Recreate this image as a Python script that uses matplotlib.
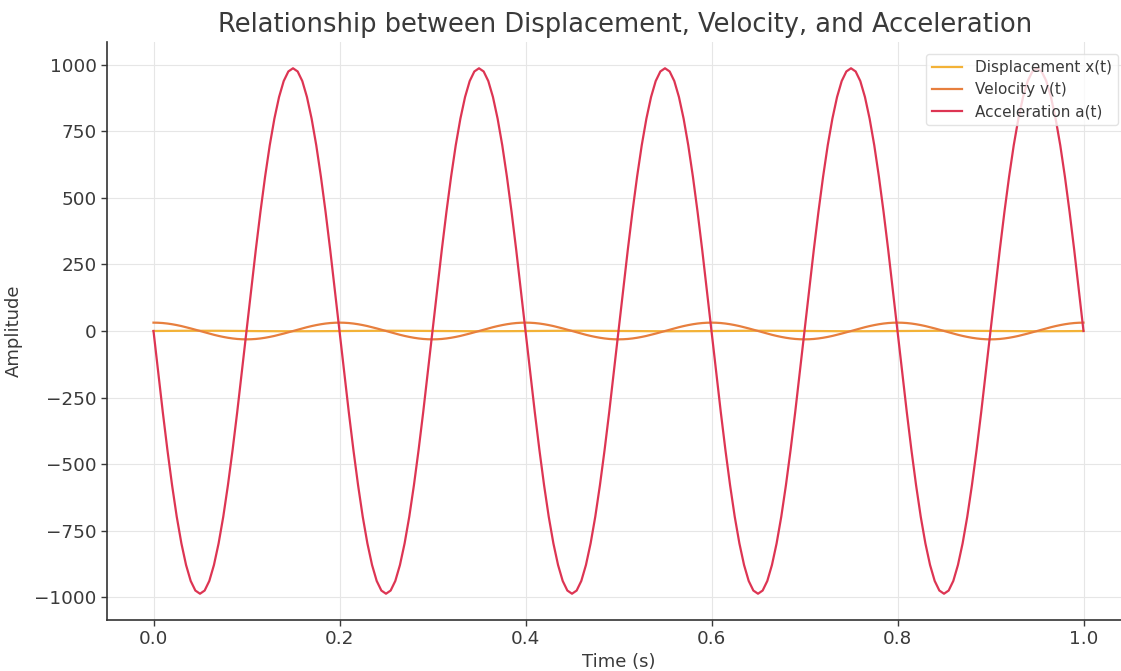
import matplotlib.pyplot as plt

# Sample times (s)
time = [
    0.000, 0.005, 0.010, 0.015, 0.020, 0.025, 0.030, 0.035, 0.040, 0.045, 0.050, 0.055, 0.060, 0.065, 0.070, 0.075, 0.080, 0.085, 0.090, 0.095,
    0.100, 0.105, 0.110, 0.115, 0.120, 0.125, 0.130, 0.135, 0.140, 0.145, 0.150, 0.155, 0.160, 0.165, 0.170, 0.175, 0.180, 0.185, 0.190, 0.195,
    0.200, 0.205, 0.210, 0.215, 0.220, 0.225, 0.230, 0.235, 0.240, 0.245, 0.250, 0.255, 0.260, 0.265, 0.270, 0.275, 0.280, 0.285, 0.290, 0.295,
    0.300, 0.305, 0.310, 0.315, 0.320, 0.325, 0.330, 0.335, 0.340, 0.345, 0.350, 0.355, 0.360, 0.365, 0.370, 0.375, 0.380, 0.385, 0.390, 0.395,
    0.400, 0.405, 0.410, 0.415, 0.420, 0.425, 0.430, 0.435, 0.440, 0.445, 0.450, 0.455, 0.460, 0.465, 0.470, 0.475, 0.480, 0.485, 0.490, 0.495,
    0.500, 0.505, 0.510, 0.515, 0.520, 0.525, 0.530, 0.535, 0.540, 0.545, 0.550, 0.555, 0.560, 0.565, 0.570, 0.575, 0.580, 0.585, 0.590, 0.595,
    0.600, 0.605, 0.610, 0.615, 0.620, 0.625, 0.630, 0.635, 0.640, 0.645, 0.650, 0.655, 0.660, 0.665, 0.670, 0.675, 0.680, 0.685, 0.690, 0.695,
    0.700, 0.705, 0.710, 0.715, 0.720, 0.725, 0.730, 0.735, 0.740, 0.745, 0.750, 0.755, 0.760, 0.765, 0.770, 0.775, 0.780, 0.785, 0.790, 0.795,
    0.800, 0.805, 0.810, 0.815, 0.820, 0.825, 0.830, 0.835, 0.840, 0.845, 0.850, 0.855, 0.860, 0.865, 0.870, 0.875, 0.880, 0.885, 0.890, 0.895,
    0.900, 0.905, 0.910, 0.915, 0.920, 0.925, 0.930, 0.935, 0.940, 0.945, 0.950, 0.955, 0.960, 0.965, 0.970, 0.975, 0.980, 0.985, 0.990, 0.995,
    1.000,
]

# Displacement x(t)
displacement = [
    0, 0.16, 0.31, 0.45, 0.59, 0.71, 0.81, 0.89, 0.95, 0.99, 1, 0.99, 0.95, 0.89, 0.81, 0.71, 0.59, 0.45, 0.31, 0.16,
    0, -0.16, -0.31, -0.45, -0.59, -0.71, -0.81, -0.89, -0.95, -0.99, -1, -0.99, -0.95, -0.89, -0.81, -0.71, -0.59, -0.45, -0.31, -0.16,
    0, 0.16, 0.31, 0.45, 0.59, 0.71, 0.81, 0.89, 0.95, 0.99, 1, 0.99, 0.95, 0.89, 0.81, 0.71, 0.59, 0.45, 0.31, 0.16,
    0, -0.16, -0.31, -0.45, -0.59, -0.71, -0.81, -0.89, -0.95, -0.99, -1, -0.99, -0.95, -0.89, -0.81, -0.71, -0.59, -0.45, -0.31, -0.16,
    0, 0.16, 0.31, 0.45, 0.59, 0.71, 0.81, 0.89, 0.95, 0.99, 1, 0.99, 0.95, 0.89, 0.81, 0.71, 0.59, 0.45, 0.31, 0.16,
    0, -0.16, -0.31, -0.45, -0.59, -0.71, -0.81, -0.89, -0.95, -0.99, -1, -0.99, -0.95, -0.89, -0.81, -0.71, -0.59, -0.45, -0.31, -0.16,
    0, 0.16, 0.31, 0.45, 0.59, 0.71, 0.81, 0.89, 0.95, 0.99, 1, 0.99, 0.95, 0.89, 0.81, 0.71, 0.59, 0.45, 0.31, 0.16,
    0, -0.16, -0.31, -0.45, -0.59, -0.71, -0.81, -0.89, -0.95, -0.99, -1, -0.99, -0.95, -0.89, -0.81, -0.71, -0.59, -0.45, -0.31, -0.16,
    0, 0.16, 0.31, 0.45, 0.59, 0.71, 0.81, 0.89, 0.95, 0.99, 1, 0.99, 0.95, 0.89, 0.81, 0.71, 0.59, 0.45, 0.31, 0.16,
    0, -0.16, -0.31, -0.45, -0.59, -0.71, -0.81, -0.89, -0.95, -0.99, -1, -0.99, -0.95, -0.89, -0.81, -0.71, -0.59, -0.45, -0.31, -0.16,
    0,
]

# Velocity v(t)
velocity = [
    31.4, 31.0, 29.9, 28.0, 25.4, 22.2, 18.5, 14.3, 9.7, 4.9, 0, -4.9, -9.7, -14.3, -18.5, -22.2, -25.4, -28.0, -29.9, -31.0,
    -31.4, -31.0, -29.9, -28.0, -25.4, -22.2, -18.5, -14.3, -9.7, -4.9, 0, 4.9, 9.7, 14.3, 18.5, 22.2, 25.4, 28.0, 29.9, 31.0,
    31.4, 31.0, 29.9, 28.0, 25.4, 22.2, 18.5, 14.3, 9.7, 4.9, 0, -4.9, -9.7, -14.3, -18.5, -22.2, -25.4, -28.0, -29.9, -31.0,
    -31.4, -31.0, -29.9, -28.0, -25.4, -22.2, -18.5, -14.3, -9.7, -4.9, 0, 4.9, 9.7, 14.3, 18.5, 22.2, 25.4, 28.0, 29.9, 31.0,
    31.4, 31.0, 29.9, 28.0, 25.4, 22.2, 18.5, 14.3, 9.7, 4.9, 0, -4.9, -9.7, -14.3, -18.5, -22.2, -25.4, -28.0, -29.9, -31.0,
    -31.4, -31.0, -29.9, -28.0, -25.4, -22.2, -18.5, -14.3, -9.7, -4.9, 0, 4.9, 9.7, 14.3, 18.5, 22.2, 25.4, 28.0, 29.9, 31.0,
    31.4, 31.0, 29.9, 28.0, 25.4, 22.2, 18.5, 14.3, 9.7, 4.9, 0, -4.9, -9.7, -14.3, -18.5, -22.2, -25.4, -28.0, -29.9, -31.0,
    -31.4, -31.0, -29.9, -28.0, -25.4, -22.2, -18.5, -14.3, -9.7, -4.9, 0, 4.9, 9.7, 14.3, 18.5, 22.2, 25.4, 28.0, 29.9, 31.0,
    31.4, 31.0, 29.9, 28.0, 25.4, 22.2, 18.5, 14.3, 9.7, 4.9, 0, -4.9, -9.7, -14.3, -18.5, -22.2, -25.4, -28.0, -29.9, -31.0,
    -31.4, -31.0, -29.9, -28.0, -25.4, -22.2, -18.5, -14.3, -9.7, -4.9, 0, 4.9, 9.7, 14.3, 18.5, 22.2, 25.4, 28.0, 29.9, 31.0,
    31.4,
]

# Acceleration a(t)
acceleration = [
    0, -154, -305, -448, -580, -698, -798, -879, -939, -975, -987, -975, -939, -879, -798, -698, -580, -448, -305, -154,
    0, 154, 305, 448, 580, 698, 798, 879, 939, 975, 987, 975, 939, 879, 798, 698, 580, 448, 305, 154,
    0, -154, -305, -448, -580, -698, -798, -879, -939, -975, -987, -975, -939, -879, -798, -698, -580, -448, -305, -154,
    0, 154, 305, 448, 580, 698, 798, 879, 939, 975, 987, 975, 939, 879, 798, 698, 580, 448, 305, 154,
    0, -154, -305, -448, -580, -698, -798, -879, -939, -975, -987, -975, -939, -879, -798, -698, -580, -448, -305, -154,
    0, 154, 305, 448, 580, 698, 798, 879, 939, 975, 987, 975, 939, 879, 798, 698, 580, 448, 305, 154,
    0, -154, -305, -448, -580, -698, -798, -879, -939, -975, -987, -975, -939, -879, -798, -698, -580, -448, -305, -154,
    0, 154, 305, 448, 580, 698, 798, 879, 939, 975, 987, 975, 939, 879, 798, 698, 580, 448, 305, 154,
    0, -154, -305, -448, -580, -698, -798, -879, -939, -975, -987, -975, -939, -879, -798, -698, -580, -448, -305, -154,
    0, 154, 305, 448, 580, 698, 798, 879, 939, 975, 987, 975, 939, 879, 798, 698, 580, 448, 305, 154,
    0,
]

text_color = '#3a3a3a'

fig = plt.figure(figsize=(11.21, 6.71), dpi=100)
ax = fig.add_axes([107 / 1121, 51 / 671, 1023 / 1121, 578 / 671])

ax.plot(time, displacement, color='#f3b237', lw=1.6, label='Displacement x(t)')
ax.plot(time, velocity, color='#e77f3e', lw=1.6, label='Velocity v(t)')
ax.plot(time, acceleration, color='#dd3553', lw=1.6, label='Acceleration a(t)')

ax.set_title('Relationship between Displacement, Velocity, and Acceleration',
             fontsize=18.5, color=text_color, pad=7, x=0.506)
ax.set_xlabel('Time (s)', fontsize=13, color=text_color, labelpad=3)
ax.set_ylabel('Amplitude', fontsize=13, color=text_color, labelpad=8)

ax.grid(True, color='#e6e6e6', lw=0.8)
ax.set_axisbelow(True)
for side in ['top', 'right']:
    ax.spines[side].set_visible(False)
for side in ['left', 'bottom']:
    ax.spines[side].set_color('#333333')
    ax.spines[side].set_linewidth(1.2)
ax.tick_params(labelsize=13.2, colors=text_color, length=4, width=1)

leg = ax.legend(loc='upper right', fontsize=11, frameon=True, borderaxespad=0.8,
                handlelength=2.0, labelspacing=0.45)
leg.get_frame().set_edgecolor('#dddddd')
for txt in leg.get_texts():
    txt.set_color(text_color)

fig.savefig('out.png', dpi=100)
